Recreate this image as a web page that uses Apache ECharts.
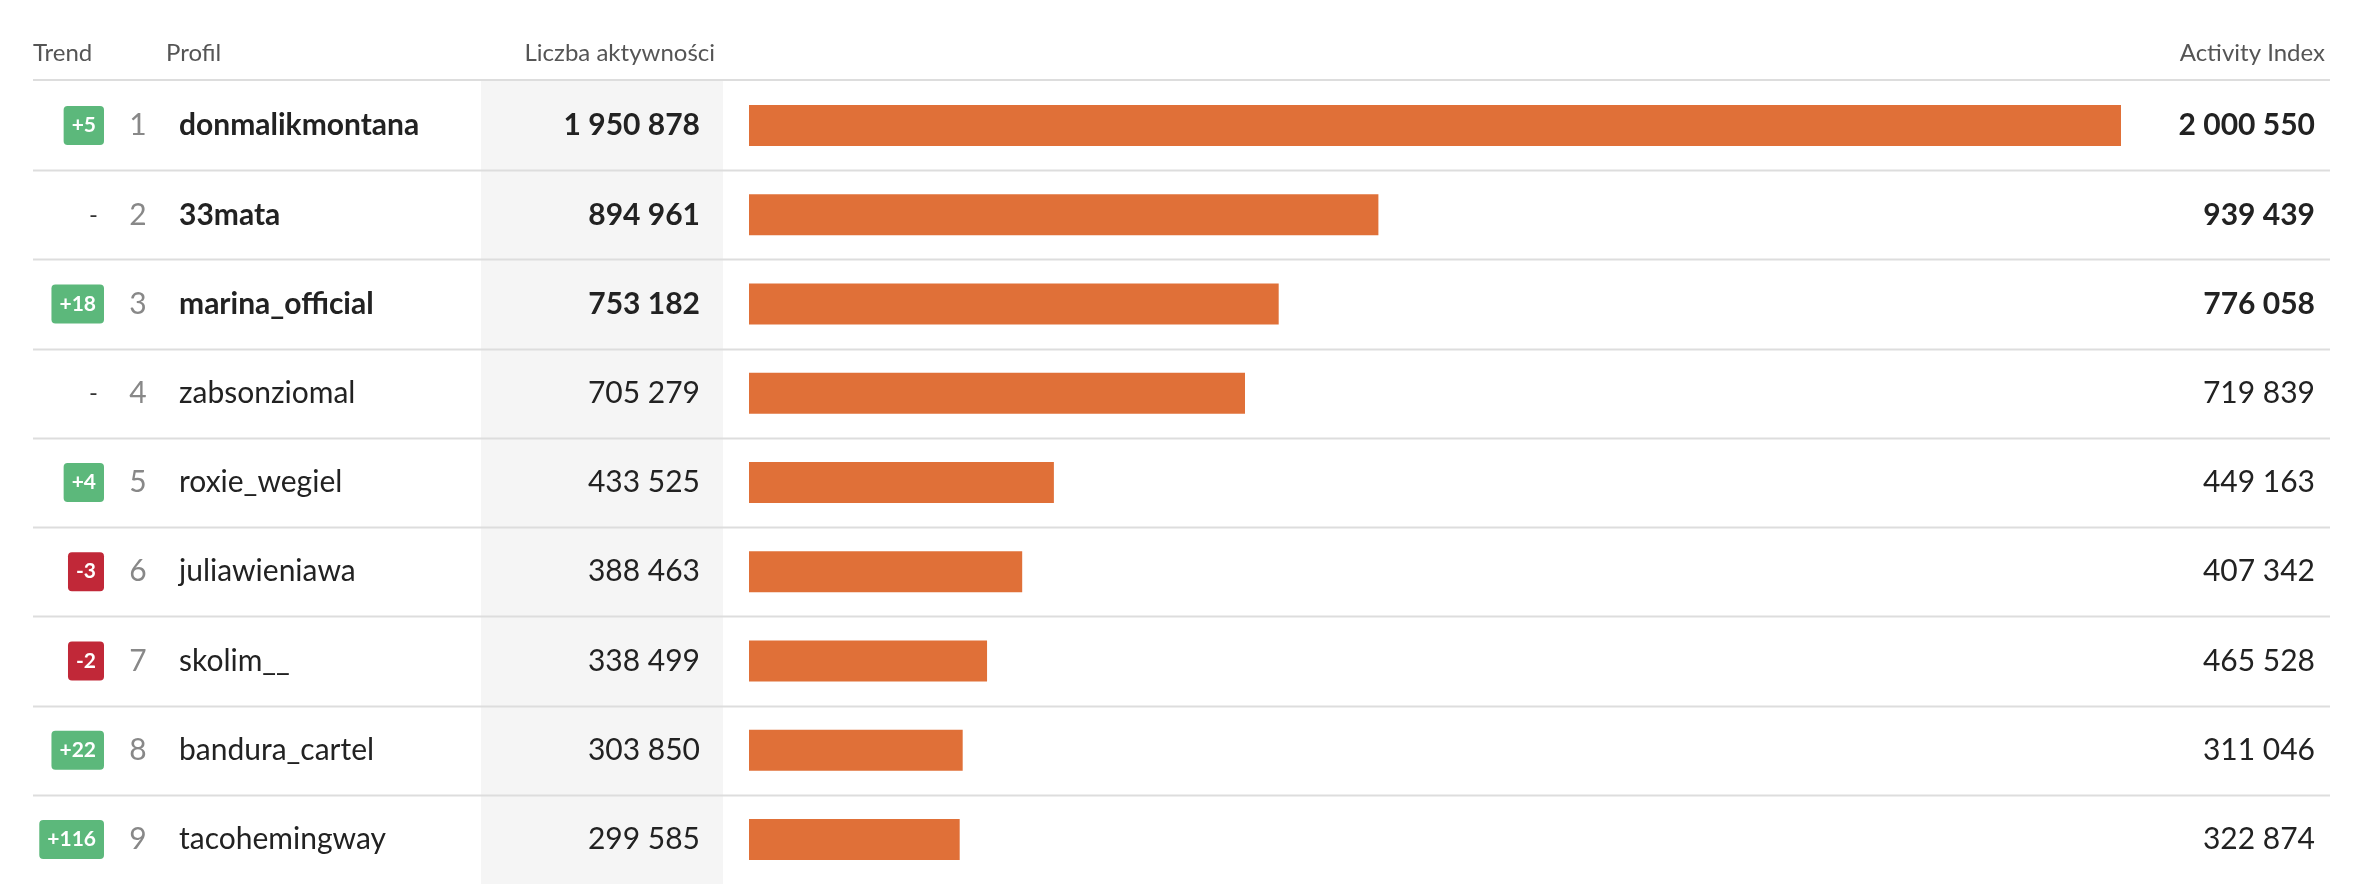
<!DOCTYPE html>
<html>
<head>
<meta charset="utf-8">
<script src="https://cdn.jsdelivr.net/npm/echarts@6/dist/echarts.min.js"></script>
<style>
  html, body { margin: 0; padding: 0; background: #fff; }
  #chart { width: 2372px; height: 884px; }
</style>
</head>
<body>
<div id="chart"></div>
<script>
const profiles = ['donmalikmontana', '33mata', 'marina_official', 'zabsonziomal', 'roxie_wegiel',
  'juliawieniawa', 'skolim__', 'bandura_cartel', 'tacohemingway'];
const trends = ['+5', '-', '+18', '-', '+4', '-3', '-2', '+22', '+116'];
const activities = [1950878, 894961, 753182, 705279, 433525, 388463, 338499, 303850, 299585];
const activityIndex = [2000550, 939439, 776058, 719839, 449163, 407342, 465528, 311046, 322874];
const headers = ['Trend', 'Profil', 'Liczba aktywności', 'Activity Index'];

const FONT = 'Lato';
const fmt = (v) => String(v).replace(/\B(?=(\d{3})+(?!\d))/g, ' ');

const chart = echarts.init(document.getElementById('chart'));

chart.setOption({
  animation: false,
  grid: { left: 749, right: 251, top: 81, height: 810 },
  xAxis: { type: 'value', min: 0, max: activities[0], show: false },
  yAxis: {
    type: 'category',
    inverse: true,
    data: profiles,
    axisLine: { show: false },
    axisTick: { show: false },
    axisLabel: { show: false }
  },
  series: [{
    type: 'bar',
    data: activities,
    barWidth: 41,
    itemStyle: { color: '#e07038' },
    silent: true
  }]
});

// columns and row text, positioned from the category axis
const elements = [];
const rowTop = chart.convertToPixel({ yAxisIndex: 0 }, 0);
const rowStep = chart.convertToPixel({ yAxisIndex: 0 }, 1) - rowTop;

// shaded column behind "Liczba aktywności"
elements.push({ type: 'rect', z: -1, shape: { x: 481, y: 80, width: 242, height: 804 },
  style: { fill: '#f5f5f5' } });

// header
const headerStyle = { fontFamily: FONT, fontSize: 24, fill: '#555', verticalAlign: 'middle' };
elements.push({ type: 'text', x: 33, y: 53, style: { ...headerStyle, text: headers[0] } });
elements.push({ type: 'text', x: 166, y: 53, style: { ...headerStyle, text: headers[1] } });
elements.push({ type: 'text', x: 715, y: 53, style: { ...headerStyle, text: headers[2], align: 'right' } });
elements.push({ type: 'text', x: 2325, y: 53, style: { ...headerStyle, text: headers[3], align: 'right' } });
elements.push({ type: 'line', shape: { x1: 33, y1: 80, x2: 2330, y2: 80 }, style: { stroke: '#ddd', lineWidth: 2 } });

profiles.forEach((name, i) => {
  const cy = chart.convertToPixel({ yAxisIndex: 0 }, i);
  const bold = i < 3 ? 'bold' : 'normal';
  const t = trends[i];
  if (t === '-') {
    elements.push({ type: 'text', x: 98, y: cy, style: { text: '-', fontFamily: FONT, fontSize: 24,
      fill: '#333', align: 'right', verticalAlign: 'middle' } });
  } else {
    elements.push({ type: 'text', x: 104, y: cy, style: { text: t, fontFamily: FONT, fontSize: 21,
      fontWeight: 'bold', fill: '#fff', align: 'right', verticalAlign: 'middle',
      backgroundColor: t[0] === '+' ? '#5cb87b' : '#c12838', padding: [9, 8, 9, 8], borderRadius: 4 } });
  }
  elements.push({ type: 'text', x: 138, y: cy, style: { text: String(i + 1), fontFamily: FONT, fontSize: 30,
    fill: '#888', align: 'center', verticalAlign: 'middle' } });
  elements.push({ type: 'text', x: 179, y: cy, style: { text: name, fontFamily: FONT, fontSize: 30,
    fontWeight: bold, fill: '#222', verticalAlign: 'middle' } });
  elements.push({ type: 'text', x: 700, y: cy, style: { text: fmt(activities[i]), fontFamily: FONT, fontSize: 30,
    fontWeight: bold, fill: '#222', align: 'right', verticalAlign: 'middle' } });
  elements.push({ type: 'text', x: 2315, y: cy, style: { text: fmt(activityIndex[i]), fontFamily: FONT, fontSize: 30,
    fontWeight: bold, fill: '#222', align: 'right', verticalAlign: 'middle' } });
  const yb = Math.round(cy + rowStep / 2) + 0.5;
  if (i < profiles.length - 1) {
    elements.push({ type: 'line', shape: { x1: 33, y1: yb, x2: 2330, y2: yb }, style: { stroke: '#ddd', lineWidth: 2 } });
  }
});

chart.setOption({ graphic: { elements } });
</script>
</body>
</html>
